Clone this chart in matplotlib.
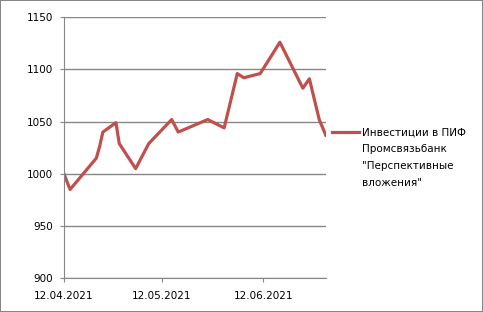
import matplotlib
matplotlib.use("Agg")
import matplotlib.pyplot as plt
import matplotlib.dates as mdates
from matplotlib.legend_handler import HandlerLine2D
import numpy as np
import datetime as dt

# дни от 12.04.2021 и стоимость вложений
days = [0, 2, 10, 11, 12, 16, 17, 22, 26, 33, 35, 44, 49, 53, 55, 60, 66, 73, 75, 78, 80]
values = [1001, 985, 1015, 1026, 1040, 1049, 1029, 1005, 1029, 1052, 1040,
          1052, 1044, 1096, 1092, 1096, 1126, 1082, 1091, 1052, 1037]
label = 'Инвестиции в ПИФ\nПромсвязьбанк\n"Перспективные\nвложения"'

start = dt.date(2021, 4, 12)
dates = [start + dt.timedelta(days=d) for d in days]

FS = 7.5
LS = 1.86


class FirstLineHandler(HandlerLine2D):
    # поднимаем ключ к первой строке подписи
    def create_artists(self, legend, orig_handle, xdescent, ydescent, width, height, fontsize, trans):
        shift = 1.5 * LS * 6.65 + 0.7
        return super().create_artists(legend, orig_handle, xdescent, ydescent - 2 * shift,
                                      width, height, fontsize, trans)


plt.rcParams['font.family'] = ['DejaVu Sans']
fig = plt.figure(figsize=(4.83, 3.12), dpi=100)
fig.patch.set_edgecolor('#868686')
fig.patch.set_linewidth(1.2)
ax = fig.add_axes([0.1315, 0.108, 0.543, 0.837])

line, = ax.plot(dates, values, color='#C0504D', lw=2.3, label=label)

ax.set_ylim(900, 1150)
ax.set_yticks(np.arange(900, 1151, 50))
ax.set_xlim(start, start + dt.timedelta(days=80))
ax.set_xticks([dt.date(2021, 4, 12), dt.date(2021, 5, 12), dt.date(2021, 6, 12)])
ax.xaxis.set_major_formatter(mdates.DateFormatter('%d.%m.%Y'))

ax.grid(axis='y', color='#868686', lw=1)
ax.set_axisbelow(True)
for s in ['top', 'right']:
    ax.spines[s].set_visible(False)
for s in ['left', 'bottom']:
    ax.spines[s].set_color('#868686')
ax.tick_params(axis='both', colors='#868686', labelcolor='black', labelsize=FS, length=3)
ax.tick_params(axis='y', pad=4.5)
ax.tick_params(axis='x', pad=6)

leg = ax.legend(loc='center left', bbox_to_anchor=(1.0, 0.461), frameon=False, fontsize=FS,
                handlelength=2.6, handletextpad=0.3, borderaxespad=0.2,
                handler_map={line: FirstLineHandler()})
for t in leg.get_texts():
    t.set_linespacing(LS)

fig.savefig('out.png', dpi=100)
